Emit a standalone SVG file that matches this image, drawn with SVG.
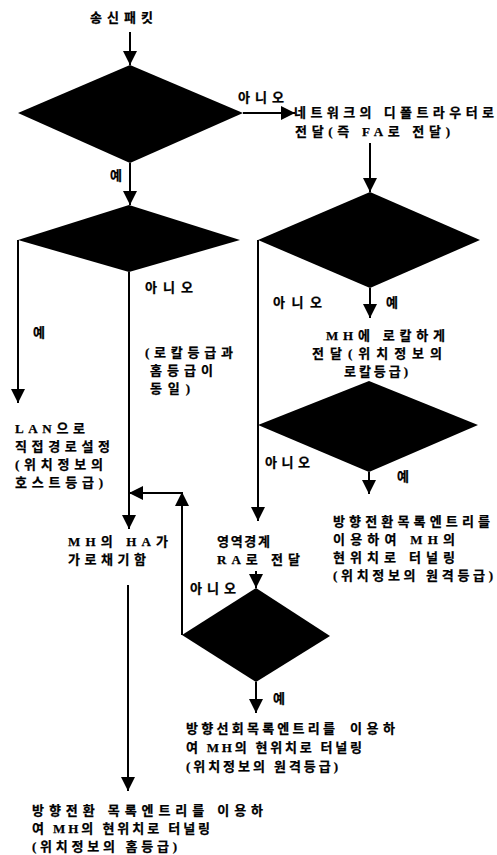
<svg xmlns="http://www.w3.org/2000/svg" width="497" height="855" viewBox="0 0 497 855">
<defs>
<marker id="ah" markerUnits="userSpaceOnUse" markerWidth="15" markerHeight="15" refX="14" refY="7" orient="auto">
<path d="M0,0 L14,7 L0,14 Z" fill="#000"/>
</marker>
<style>
.t{font-family:"Liberation Serif","Noto Sans CJK KR",sans-serif;font-size:13px;font-weight:bold;fill:#000;stroke:#000;stroke-width:0.25}
.ln{stroke:#000;stroke-width:2;fill:none}
.a{marker-end:url(#ah)}
.d{fill:#000}
</style>
</defs>
<rect width="497" height="855" fill="#fff"/>

<g id="start"><text class="t" x="90" y="22" textLength="63" lengthAdjust="spacing">송신패킷</text></g>
<g id="d1"><polygon class="d" points="130,65 243,113 130,163 18,113"/></g>
<g id="fa"><text class="t" x="294" y="117" textLength="200" lengthAdjust="spacing">네트워크의 디폴트라우터로</text><text class="t" x="295" y="136" textLength="155" lengthAdjust="spacing">전달(즉 FA로 전달)</text></g>
<g id="d2"><polygon class="d" points="129,205 240,240 129,272 18,240"/></g>
<g id="lan"><text class="t" x="15" y="433" textLength="70" lengthAdjust="spacing">LAN으로</text><text class="t" x="15" y="451" textLength="95" lengthAdjust="spacing">직접경로설정</text><text class="t" x="15" y="469" textLength="88" lengthAdjust="spacing">(위치정보의</text><text class="t" x="15" y="487" textLength="88" lengthAdjust="spacing">호스트등급)</text></g>
<g id="ha"><text class="t" x="68" y="546" textLength="100" lengthAdjust="spacing">MH의 HA가</text><text class="t" x="68" y="564" textLength="78" lengthAdjust="spacing">가로채기함</text></g>
<g id="d3"><polygon class="d" points="370,192 480,240 370,288 258,240"/></g>
<g id="local"><text class="t" x="326" y="340" textLength="119" lengthAdjust="spacing">MH에 로칼하게</text><text class="t" x="312" y="358" textLength="130" lengthAdjust="spacing">전달(위치정보의</text><text class="t" x="344" y="376" textLength="64" lengthAdjust="spacing">로칼등급)</text></g>
<g id="d4"><polygon class="d" points="369,381 478,425 369,472 258,425"/></g>
<g id="remote1"><text class="t" x="333" y="526" textLength="157" lengthAdjust="spacing">방향전환목록엔트리를</text><text class="t" x="333" y="544" textLength="122" lengthAdjust="spacing">이용하여 MH의</text><text class="t" x="333" y="562" textLength="122" lengthAdjust="spacing">현위치로 터널링</text><text class="t" x="333" y="580" textLength="160" lengthAdjust="spacing">(위치정보의 원격등급)</text></g>
<g id="ra"><text class="t" x="217" y="546" textLength="53" lengthAdjust="spacing">영역경계</text><text class="t" x="217" y="564" textLength="83" lengthAdjust="spacing">RA로 전달</text></g>
<g id="d5"><polygon class="d" points="256,588 330,636 256,682 182,635"/></g>
<g id="remote2"><text class="t" x="186" y="733" textLength="149" lengthAdjust="spacing">방향선회목록엔트리를</text><text class="t" x="350" y="733" textLength="45" lengthAdjust="spacing">이용하</text><text class="t" x="186" y="752" textLength="176" lengthAdjust="spacing">여 MH의 현위치로 터널링</text><text class="t" x="186" y="771" textLength="152" lengthAdjust="spacing">(위치정보의 원격등급)</text></g>
<g id="home"><text class="t" x="32" y="815" textLength="231" lengthAdjust="spacing">방향전환 목록엔트리를 이용하</text><text class="t" x="32" y="833" textLength="178" lengthAdjust="spacing">여 MH의 현위치로 터널링</text><text class="t" x="32" y="851" textLength="145" lengthAdjust="spacing">(위치정보의 홈등급)</text></g>

<g id="connectors">
<line class="ln a" x1="130" y1="32" x2="130" y2="65"/>
<line class="ln a" x1="243" y1="113" x2="295" y2="113"/>
<line class="ln a" x1="130" y1="163" x2="130" y2="205"/>
<line class="ln a" x1="18" y1="240" x2="18" y2="403"/>
<line class="ln a" x1="129" y1="272" x2="129" y2="529"/>
<line class="ln a" x1="370" y1="143" x2="370" y2="192"/>
<line class="ln a" x1="258" y1="240" x2="258" y2="521"/>
<line class="ln a" x1="370" y1="288" x2="370" y2="318"/>
<line class="ln a" x1="369" y1="472" x2="369" y2="494"/>
<line class="ln a" x1="256" y1="571" x2="256" y2="588"/>
<line class="ln a" x1="256" y1="682" x2="256" y2="713"/>
<line class="ln a" x1="182" y1="635" x2="182" y2="492"/>
<line class="ln a" x1="182" y1="493" x2="129" y2="493"/>
<line class="ln a" x1="128" y1="585" x2="128" y2="791"/>
</g>
<g id="labels">
<text class="t" x="238" y="102" textLength="46" lengthAdjust="spacing">아니오</text>
<text class="t" x="110" y="180">예</text>
<text class="t" x="33" y="337">예</text>
<text class="t" x="145" y="292" textLength="48" lengthAdjust="spacing">아니오</text>
<text class="t" x="145" y="357" textLength="88" lengthAdjust="spacing">(로칼등급과</text>
<text class="t" x="150" y="375" textLength="63" lengthAdjust="spacing">홈등급이</text>
<text class="t" x="150" y="393" textLength="40" lengthAdjust="spacing">동일)</text>
<text class="t" x="273" y="307" textLength="49" lengthAdjust="spacing">아니오</text>
<text class="t" x="386" y="307">예</text>
<text class="t" x="265" y="467" textLength="45" lengthAdjust="spacing">아니오</text>
<text class="t" x="397" y="481">예</text>
<text class="t" x="190" y="593" textLength="46" lengthAdjust="spacing">아니오</text>
<text class="t" x="273" y="703">예</text>
</g>
</svg>
